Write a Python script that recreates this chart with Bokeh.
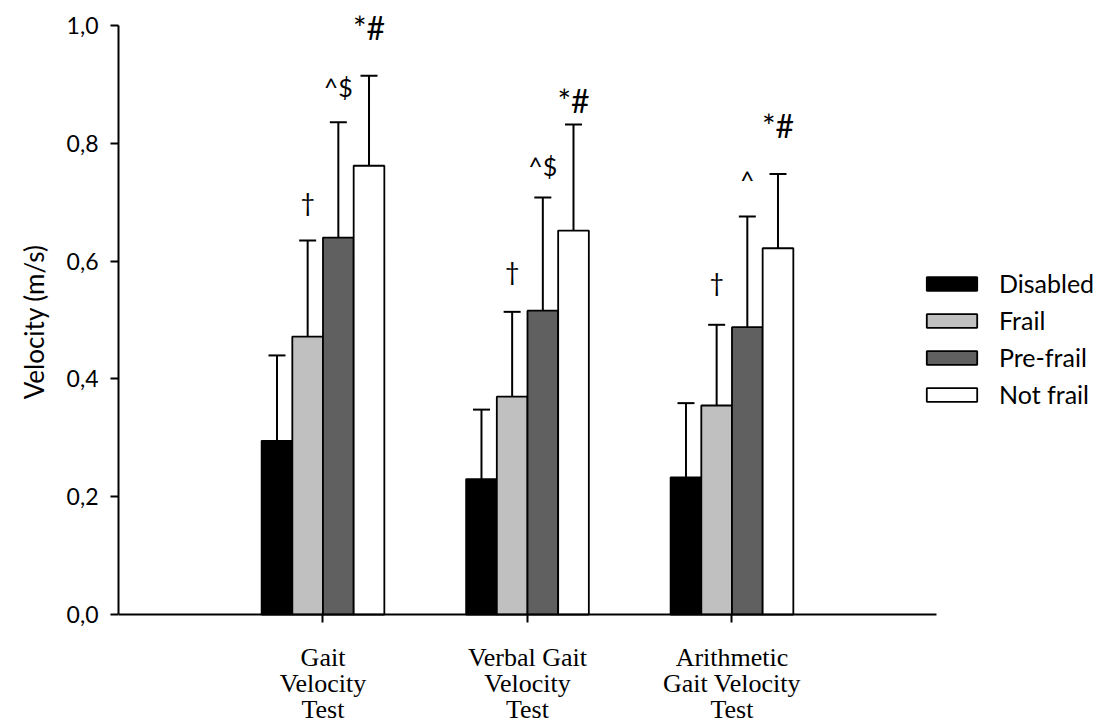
from bokeh.plotting import figure
from bokeh.models import (ColumnDataSource, Range1d, Whisker, TeeHead, Legend,
                          LegendItem, FixedTicker, CustomJSTickFormatter, Title)
from bokeh.transform import dodge
from bokeh.core.properties import value
from bokeh.embed import file_html
from bokeh.resources import INLINE

# ---- data ----
tests = ["Gait\nVelocity\nTest", "Verbal Gait\nVelocity\nTest", "Arithmetic\nGait Velocity\nTest"]
test_pos = [1, 2, 3]
groups = ["Disabled", "Frail", "Pre-frail", "Not frail"]

disabled = [0.295, 0.230, 0.233]
frail = [0.472, 0.370, 0.355]
prefrail = [0.640, 0.516, 0.488]
notfrail = [0.762, 0.652, 0.622]

disabled_sd = [0.145, 0.118, 0.126]
frail_sd = [0.163, 0.144, 0.137]
prefrail_sd = [0.196, 0.192, 0.188]
notfrail_sd = [0.153, 0.180, 0.126]

frail_sig = ["\u2020", "\u2020", "\u2020"]
prefrail_sig = ["^$", "^$", "^"]
notfrail_sig = ["*#", "*#", "*#"]
frail_sig_y = [0.700, 0.584, 0.564]
prefrail_sig_y = [0.896, 0.762, 0.737]
notfrail_sig_y = [0.997, 0.873, 0.830]

y_ticks = [0, 0.2, 0.4, 0.6, 0.8, 1.0]

means = [disabled, frail, prefrail, notfrail]
sds = [disabled_sd, frail_sd, prefrail_sd, notfrail_sd]
colors = ["#000000", "#c0c0c0", "#606060", "#ffffff"]
offsets = [-0.225, -0.075, 0.075, 0.225]
bar_w = 0.15

SANS = "Lato"

p = figure(x_range=Range1d(0, 4.807), y_range=Range1d(-0.1866, 1.029), width=1101, height=724,
           output_backend="svg", toolbar_location=None,
           min_border_left=118, min_border_right=0, min_border_top=8, min_border_bottom=0)
p.outline_line_color = None
p.grid.visible = False
p.background_fill_color = "white"
p.border_fill_color = "white"

items = []
for g, m, sd, c, off in zip(groups, means, sds, colors, offsets):
    src = ColumnDataSource(dict(x=test_pos, top=m, upper=[a + b for a, b in zip(m, sd)]))
    xs = dodge("x", off)
    r = p.vbar(x=xs, top="top", width=bar_w, source=src, fill_color=c,
               line_color="black", line_width=1.8)
    w = Whisker(source=src, base=xs, upper="upper", lower="top",
                upper_head=TeeHead(size=17, line_width=2, line_color="black"),
                lower_head=None, line_color="black", line_width=2)
    p.add_layout(w)
    items.append(LegendItem(label=g, renderers=[r]))

for sig, sy, off, fs in [(frail_sig, frail_sig_y, offsets[1], "25px"),
                         (prefrail_sig, prefrail_sig_y, offsets[2], "25px"),
                         (notfrail_sig, notfrail_sig_y, offsets[3], "32px")]:
    s = ColumnDataSource(dict(x=test_pos, t=sig, y=sy))
    p.text(x=dodge("x", off), y="y", text="t", source=s,
           text_align="center", text_baseline="middle", text_color="black",
           text_font=value(SANS), text_font_size=fs)

legend = Legend(items=items, location=(802, 315), orientation="vertical",
                glyph_width=63, glyph_height=17, label_height=17, label_standoff=16,
                spacing=7, padding=0, margin=0, border_line_alpha=0,
                background_fill_alpha=0, label_text_font=SANS,
                label_text_font_size="25px", label_text_color="black")
p.add_layout(legend, "center")

# y axis
ya = p.yaxis[0]
ya.bounds = (0, 1)
ya.ticker = FixedTicker(ticks=y_ticks)
ya.formatter = CustomJSTickFormatter(code="return tick.toFixed(1).replace('.', ',')")
ya.major_label_text_font = SANS
ya.major_label_text_font_size = "23px"
ya.major_label_text_color = "black"
ya.major_label_standoff = 12
ya.major_tick_out = 8
ya.major_tick_in = 0
ya.minor_tick_out = 0
ya.minor_tick_in = 0
ya.axis_line_width = 2
ya.axis_line_color = "black"
ya.major_tick_line_width = 2
ya.major_tick_line_color = "black"

ylabel = Title(text="Velocity (m/s)", align="right", offset=236, standoff=28,
               text_font=SANS, text_font_size="26px", text_font_style="normal",
               text_color="black")
p.add_layout(ylabel, "left")

xa = p.xaxis[0]
xa.fixed_location = 0
xa.bounds = (0, 4)
xa.ticker = FixedTicker(ticks=test_pos)
xa.major_label_overrides = {k: t for k, t in zip(test_pos, tests)}
xa.major_label_text_font = "Liberation Serif"
xa.major_label_text_font_size = "26px"
xa.major_label_text_color = "black"
xa.major_label_text_line_height = 0.9
xa.major_label_standoff = 20
xa.major_tick_out = 8
xa.major_tick_in = 0
xa.minor_tick_out = 0
xa.minor_tick_in = 0
xa.axis_line_width = 2
xa.axis_line_color = "black"
xa.major_tick_line_width = 2
xa.major_tick_line_color = "black"

open("out.html", "w").write(file_html(p, INLINE))
